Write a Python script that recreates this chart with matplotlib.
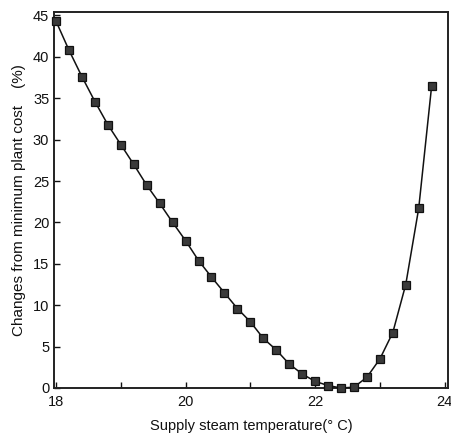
import matplotlib
matplotlib.use("Agg")
import matplotlib.pyplot as plt

temps = [18.0, 18.2, 18.4, 18.6, 18.8, 19.0, 19.2, 19.4, 19.6, 19.8,
         20.0, 20.2, 20.4, 20.6, 20.8, 21.0, 21.2, 21.4, 21.6, 21.8,
         22.0, 22.2, 22.4, 22.6, 22.8, 23.0, 23.2, 23.4, 23.6, 23.8]
cost_change = [44.3, 40.8, 37.6, 34.6, 31.8, 29.4, 27.0, 24.5, 22.3, 20.0,
               17.8, 15.4, 13.4, 11.5, 9.6, 8.0, 6.0, 4.6, 2.9, 1.7,
               0.8, 0.3, 0.0, 0.1, 1.3, 3.5, 6.7, 12.5, 21.7, 36.5]
xtick_vals = [18, 19, 20, 21, 22, 23, 24]
xtick_labels = ["18", "", "20", "", "22", "", "24"]
ytick_vals = [0, 5, 10, 15, 20, 25, 30, 35, 40, 45]

plt.rcParams['font.family'] = ['Liberation Sans', 'DejaVu Sans']

fig = plt.figure(figsize=(4.51, 4.34), dpi=100)
ax = fig.add_axes([0.12, 0.106, 0.873, 0.866])

ax.plot(temps, cost_change, color='#111111', linewidth=1.1,
        marker='s', markersize=5.5, markerfacecolor='#3a3a3a',
        markeredgecolor='#111111', markeredgewidth=0.9, clip_on=False, zorder=3)

ax.set_xlim(17.97, 24.05)
ax.set_ylim(0, 45.4)
ax.set_xticks(xtick_vals)
ax.set_xticklabels(xtick_labels)
ax.set_yticks(ytick_vals)
ax.tick_params(direction='in', length=4, width=1.0, labelsize=10.5, colors='#111111')
ax.tick_params(axis='x', pad=5)
for s in ax.spines.values():
    s.set_linewidth(1.4)
    s.set_color('#222222')

ax.set_xlabel("Supply steam temperature(° C)", fontsize=10.5, labelpad=7, color='#111111')
ax.set_ylabel("Changes from minimum plant cost    (%)", fontsize=11, labelpad=5, color='#111111')

fig.savefig("out.png", dpi=100)
